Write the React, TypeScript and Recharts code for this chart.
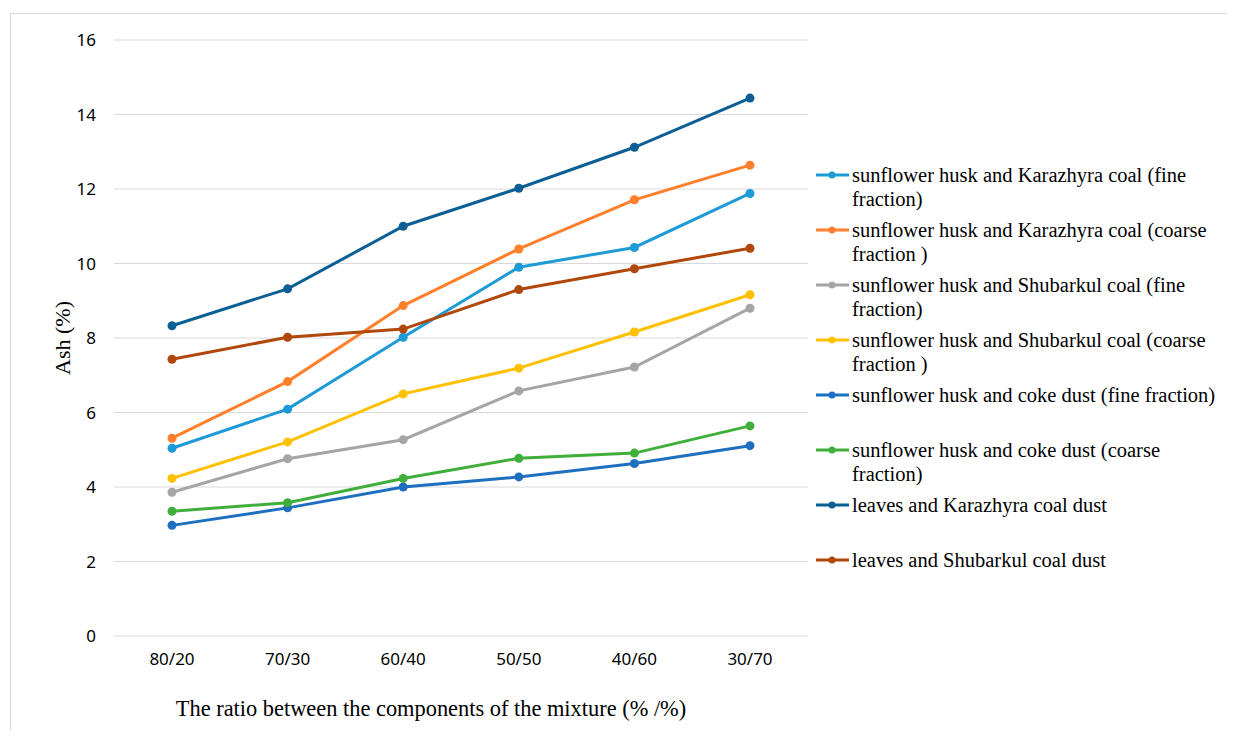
import { CartesianGrid, Legend, Line, LineChart, XAxis, YAxis } from "recharts";

const ratios = ["80/20", "70/30", "60/40", "50/50", "40/60", "30/70"];

const karazhyraFine = [5.04, 6.09, 8.02, 9.9, 10.43, 11.88];
const karazhyraCoarse = [5.31, 6.83, 8.87, 10.39, 11.71, 12.64];
const shubarkulFine = [3.86, 4.76, 5.27, 6.58, 7.22, 8.8];
const shubarkulCoarse = [4.23, 5.21, 6.5, 7.19, 8.16, 9.16];
const cokeFine = [2.97, 3.44, 4.0, 4.27, 4.63, 5.11];
const cokeCoarse = [3.35, 3.58, 4.23, 4.77, 4.91, 5.64];
const leavesKarazhyra = [8.33, 9.32, 11.0, 12.02, 13.12, 14.44];
const leavesShubarkul = [7.43, 8.02, 8.24, 9.3, 9.86, 10.41];

const yTicks = [0, 2, 4, 6, 8, 10, 12, 14, 16];

const series = [
  { key: "kf", name: "sunflower husk and Karazhyra coal (fine fraction)", values: karazhyraFine, color: "#1E9BD7" },
  { key: "kc", name: "sunflower husk and Karazhyra coal (coarse fraction )", values: karazhyraCoarse, color: "#FF7F2A" },
  { key: "sf", name: "sunflower husk and Shubarkul coal (fine fraction)", values: shubarkulFine, color: "#A5A5A5" },
  { key: "sc", name: "sunflower husk and Shubarkul coal (coarse fraction )", values: shubarkulCoarse, color: "#FFC000" },
  { key: "cf", name: "sunflower husk and coke dust (fine fraction)", values: cokeFine, color: "#1F6FC0" },
  { key: "cc", name: "sunflower husk and coke dust (coarse fraction)", values: cokeCoarse, color: "#3FAE3A" },
  { key: "lk", name: "leaves and Karazhyra coal dust", values: leavesKarazhyra, color: "#0C5F94" },
  { key: "ls", name: "leaves and Shubarkul coal dust", values: leavesShubarkul, color: "#B0470B" },
];

const data = ratios.map((r, i) => {
  const row: any = { ratio: r };
  series.forEach((s) => (row[s.key] = s.values[i]));
  return row;
});

const serif = "'Liberation Serif', 'Times New Roman', serif";
const sans = "'Noto Sans', sans-serif";

const LegendBox = () => (
  <div style={{ fontFamily: serif, fontSize: 20.5, color: "#000" }}>
    {series.map((s) => (
      <div key={s.key} style={{ display: "flex", height: 55, alignItems: "flex-start" }}>
        <svg width={36} height={24} style={{ flex: "none" }}>
          <line x1={0} y1={12} x2={33} y2={12} stroke={s.color} strokeWidth={3} />
          <circle cx={16} cy={12} r={3.5} fill={s.color} />
        </svg>
        <div style={{ width: 372, lineHeight: "24px" }}>{s.name}</div>
      </div>
    ))}
  </div>
);

const XLabel = () => (
  <text x={431} y={716} textAnchor="middle" fontFamily={serif} fontSize={22.4} fill="#000">
    The ratio between the components of the mixture (% /%)
  </text>
);

const YLabel = () => (
  <text
    x={62}
    y={338}
    transform="rotate(-90 62 338)"
    textAnchor="middle"
    dominantBaseline="central"
    fontFamily={serif}
    fontSize={22}
    fill="#000"
  >
    Ash (%)
  </text>
);

export default function App() {
  return (
    <div style={{ position: "relative", width: 1235, height: 738, margin: -8, overflow: "hidden", background: "#fff" }}>
      <div
        style={{
          position: "absolute",
          left: 10,
          top: 13,
          width: 1300,
          height: 800,
          border: "1px solid #d9d9d9",
        }}
      />
      <LineChart
        width={1235}
        height={738}
        data={data}
        margin={{ top: 40, right: 427, bottom: 0, left: 0 }}
      >
        <CartesianGrid vertical={false} stroke="#d9d9d9" strokeWidth={1} />
        <XAxis
          dataKey="ratio"
          height={102}
          padding={{ left: 58, right: 58 }}
          axisLine={false}
          tickLine={false}
          tickSize={0}
          tickMargin={17}
          tick={{ fontFamily: sans, fontSize: 17, fill: "#000" }}
          label={<XLabel />}
        />
        <YAxis
          width={114}
          domain={[0, 16]}
          ticks={yTicks}
          axisLine={false}
          tickLine={false}
          tickSize={0}
          tickMargin={18}
          tick={{ fontFamily: sans, fontSize: 17, fill: "#000" }}
          label={<YLabel />}
        />
        <Legend
          layout="horizontal"
          verticalAlign="middle"
          align="center"
          content={<LegendBox />}
          wrapperStyle={{ left: 816, top: 163, width: 415 }}
        />
        {series.map((s) => (
          <Line
            key={s.key}
            dataKey={s.key}
            name={s.name}
            stroke={s.color}
            strokeWidth={3}
            dot={{ r: 4.5, fill: s.color, stroke: s.color, strokeWidth: 0 }}
            activeDot={false}
            isAnimationActive={false}
          />
        ))}
      </LineChart>
    </div>
  );
}
